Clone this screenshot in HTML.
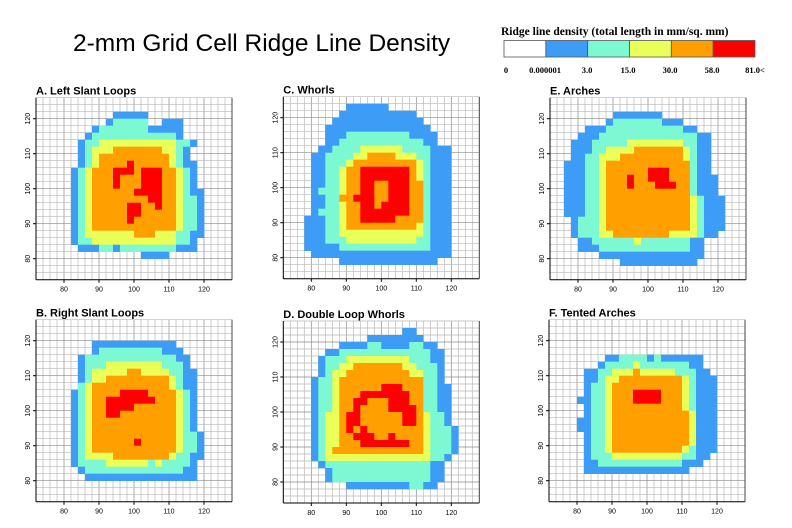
<!DOCTYPE html>
<html><head><meta charset="utf-8">
<style>
html,body{margin:0;padding:0;background:#fff;}
body{width:792px;height:528px;overflow:hidden;position:relative;font-family:"Liberation Sans",sans-serif;}
#title{position:absolute;left:73px;top:30px;font-size:24.5px;color:#000;white-space:nowrap;}
svg{position:absolute;left:0;top:0;}
</style></head>
<body>
<div id="title">2-mm Grid Cell Ridge Line Density</div>
<svg id="chart" width="792" height="528"></svg>
<script>
const levelColors = ["#ffffff","#3c9cf6","#7cf9d2","#eaff58","#ffa000","#ff0000"];
const legendLabels = ["0","0.000001","3.0","15.0","30.0","58.0","81.0<"];
const xTicks = [80,90,100,110,120];
const yTicks = [80,90,100,110,120];
const panelTitles = ["A. Left Slant Loops","C. Whorls","E. Arches","B. Right Slant Loops","D. Double Loop Whorls","F. Tented Arches"];
const gridA = [
"0000000000000000000000000000","0000000000000000000000000000",
"0000000000011111000000000000","0000000000122222001110000000",
"0000000012222222111110000000","0000000122222222222210000000",
"0000001223333333333322100000","0000001233344444443321000000",
"0000001234444444444321000000","0000001234444544444321100000",
"0000012344455545554432100000","0000012344454445554432100000",
"0000012344454445554432100000","0000012344444455554432110000",
"0000012344444444554432210000","0000012344444554454432210000",
"0000012344444554444432210000","0000012344444544444432210000",
"0000012344444444444432210000","0000012333333344433322110000",
"0000012233333333333322100000","0000001112212222222211100000",
"0000000000000001111000000000","0000000000000000000000000000",
"0000000000000000000000000000","0000000000000000000000000000"];
const gridC = [
"0000000000000000000000000000","0000000001111110000000000000",
"0000000011111111111000000000","0000000111111111111100000000",
"0000001111111111111110000000","0000001112222222221111000000",
"0000001122222222222211000000","0000011222233333322221110000",
"0000112222334444333221110000","0000112223444444444321110000",
"0000112234455555554321110000","0000112234455555554321110000",
"0000112234455445554421110000","0000122234455445554421110000",
"0000112244555445554421110000","0000112234455455554421110000",
"0000122234455555554421110000","0001112234455555444421110000",
"0001112234444444444321110000","0001112233333333333321110000",
"0001112223333333333221110000","0001111122222222222221110000",
"0000111111111111111111110000","0000000011111111111111000000",
"0000000000000000000000000000","0000000000000000000000000000"];
const gridE = [
"0000000000000000000000000000","0000000000000000000000000000",
"0000000001111111000000000000","0000000012222222111000000000",
"0000011122222222222110000000","0000111222222222222221100000",
"0001112222233333333221100000","0001112233334444444321100000",
"0001122333444444444321100000","0011122344444444444421100000",
"0011122344444455544421100000","0011122344454455544421110000",
"0011122344454445554421110000","0011122344444444444421110000",
"0011122344444444444432111000","0011122344444444444432111000",
"0011122344444444444432111000","0001222344444444444432111000",
"0001222344444444444432111000","0001222334444444433332110000",
"0000112222223222222211000000","0000111222222222222211000000",
"0000000111111111111111000000","0000000000111111111110000000",
"0000000000000000000000000000","0000000000000000000000000000"];
const gridB = [
"0000000000000000000000000000","0000000000000000000000000000",
"0000000000000000000000000000","0000000011111111111100000000",
"0000000012222222221110000000","0000001222222222222211000000",
"0000001222333333332221000000","0000001233333443333221100000",
"0000001233444444444321100000","0000002344444444444321100000",
"0000012344445555444432100000","0000012344555555544432100000",
"0000012344555544444432100000","0000012344554444444432100000",
"0000012344444444444432100000","0000012344444444444432100000",
"0000012344444444444432210000","0000012344444454444432210000",
"0000012344444444444432210000","0000012333344444444322110000",
"0000012222333333232222100000","0000001222222222222221100000",
"0000000111111111111111100000","0000000000000000000000000000",
"0000000000000000000000000000","0000000000000000000000000000"];
const gridD = [
"0000000000000000000000000000","0000000000000000011000000000",
"0000000000001111111100000000","0000000011112211112211000000",
"0000001122222222222221100000","0000012223333333332221100000",
"0000012233444444433222100000","0000012334444444443322100000",
"0000122344444444444422100000","0000122344444455544422110000",
"0000122344455555554422110000","0000122344554445554422110000",
"0000122344544445555422110000","0000123345544444455432210000",
"0000123345544444455432210000","0000123345454444444432221000",
"0000123344555445444432221000","0000123344455555554432221000",
"0000123444444444444432221000","0000123333333333333332210000",
"0000012222222222222221100000","0000001222222222222221100000",
"0000001222222222222221100000","0000000001111111112211000000",
"0000000000000000000000000000","0000000000000000000000000000"];
const gridF = [
"0000000000000000000000000000","0000000000000000000000000000",
"0000000000000000000000000000","0000000000000000000000000000",
"0000000000000000000000000000","0000000011222212111111000000",
"0000000122223222222211000000","0000011223334333332221100000",
"0000011233444444444321110000","0000012234444444444321110000",
"0000012234445555444321110000","0000112234445555444321110000",
"0000012234444444444321110000","0000012234444444444431110000",
"0000112234444444444431110000","0000112234444444444431110000",
"0000012234444444444431110000","0000012234444444444431110000",
"0000012234444444444321110000","0000012223333333333221100000",
"0000011222222222222111000000","0000011111111111111100000000",
"0000000000000000000000000000","0000000000000000000000000000",
"0000000000000000000000000000","0000000000000000000000000000"];
const panelGrids = [gridA,gridC,gridE,gridB,gridD,gridF];
const panelLeft = [36,283.3,550,36,283.3,549];
const panelTop = [97.7,96.7,97.7,319.7,321,319.7];

const NS="http://www.w3.org/2000/svg";
const svg=document.getElementById('chart');
function mk(tag,attrs,parent){const e=document.createElementNS(NS,tag);for(const k in attrs)e.setAttribute(k,attrs[k]);(parent||svg).appendChild(e);return e;}
const SC=3.5, X0=72, Y1=126, NC=28, NR=26;

panelGrids.forEach((grid,p)=>{
  const L=panelLeft[p], T=panelTop[p];
  const xS=v=>L+(v-X0)*SC;
  const yS=v=>T+(Y1-v)*SC;
  const g=mk('g',{});
  
  
  const t=mk('text',{x:L,y:T-3,'font-size':'11','font-weight':'bold','font-family':'Liberation Sans, sans-serif'},g);
  t.textContent=panelTitles[p];
  
  
  for(let c=0;c<=NC;c++){const x=xS(X0+2*c);mk('line',{x1:x,y1:T,x2:x,y2:T+NR*7,stroke:(c%5==4)?'#8a8a8a':'#b8b8b8','stroke-width':0.7},g);}
  for(let r=0;r<=NR;r++){const y=yS(Y1-2*r);mk('line',{x1:L,y1:y,x2:L+NC*7,y2:y,stroke:(r%5==3)?'#8a8a8a':'#b8b8b8','stroke-width':0.7},g);}
  grid.forEach((row,r)=>{
    for(let c=0;c<row.length;c++){
      const lv=+row[c]; if(!lv) continue;
      const vx=X0+2*c, vy=Y1-2*r;
      const rc=mk('rect',{x:xS(vx),y:yS(vy),width:xS(vx+2)-xS(vx)+0.3,height:yS(vy-2)-yS(vy)+0.3,fill:levelColors[lv]},g);
      
      
    }
  });
  mk('line',{x1:L,y1:T,x2:L,y2:T+NR*7,stroke:'#000','stroke-width':1},g);
  mk('line',{x1:L,y1:T+NR*7,x2:L+NC*7,y2:T+NR*7,stroke:'#000','stroke-width':1},g);
  mk('line',{x1:L+NC*7,y1:T,x2:L+NC*7,y2:T+NR*7,stroke:'#444','stroke-width':1},g);
  xTicks.forEach(v=>{
    mk('line',{x1:xS(v),y1:T+NR*7,x2:xS(v),y2:T+NR*7+3,stroke:'#000'},g);
    const tx=mk('text',{x:xS(v),y:T+NR*7+12,'font-size':'7','text-anchor':'middle','font-family':'Liberation Sans, sans-serif'},g);
    tx.textContent=v;
    
    
  });
  yTicks.forEach(v=>{
    mk('line',{x1:L-3,y1:yS(v),x2:L,y2:yS(v),stroke:'#000'},g);
    const ty=mk('text',{x:L-6,y:yS(v),'font-size':'7','text-anchor':'middle','font-family':'Liberation Sans, sans-serif',transform:`rotate(-90 ${L-6} ${yS(v)})`},g);
    ty.textContent=v;
    
    
  });
});

const lg=mk('g',{});


const lt=mk('text',{x:501,y:35,'font-size':'11.5','font-weight':'bold','font-family':'Liberation Serif, serif'},lg);
lt.textContent='Ridge line density (total length in mm/sq. mm)';


const LX=504, LW=251/6;
levelColors.forEach((col,i)=>{
  const r=mk('rect',{x:LX+i*LW,y:40.5,width:LW,height:16.5,fill:col,stroke:'#555','stroke-width':0.8},lg);
  
  
});
const labelX=[506,545,587,628,670,712,755];
legendLabels.forEach((s,i)=>{
  const t=mk('text',{x:labelX[i],y:73,'font-size':'8.5','font-weight':'bold','text-anchor':'middle','font-family':'Liberation Serif, serif'},lg);
  t.textContent=s;
  
  
});
</script>
</body></html>
